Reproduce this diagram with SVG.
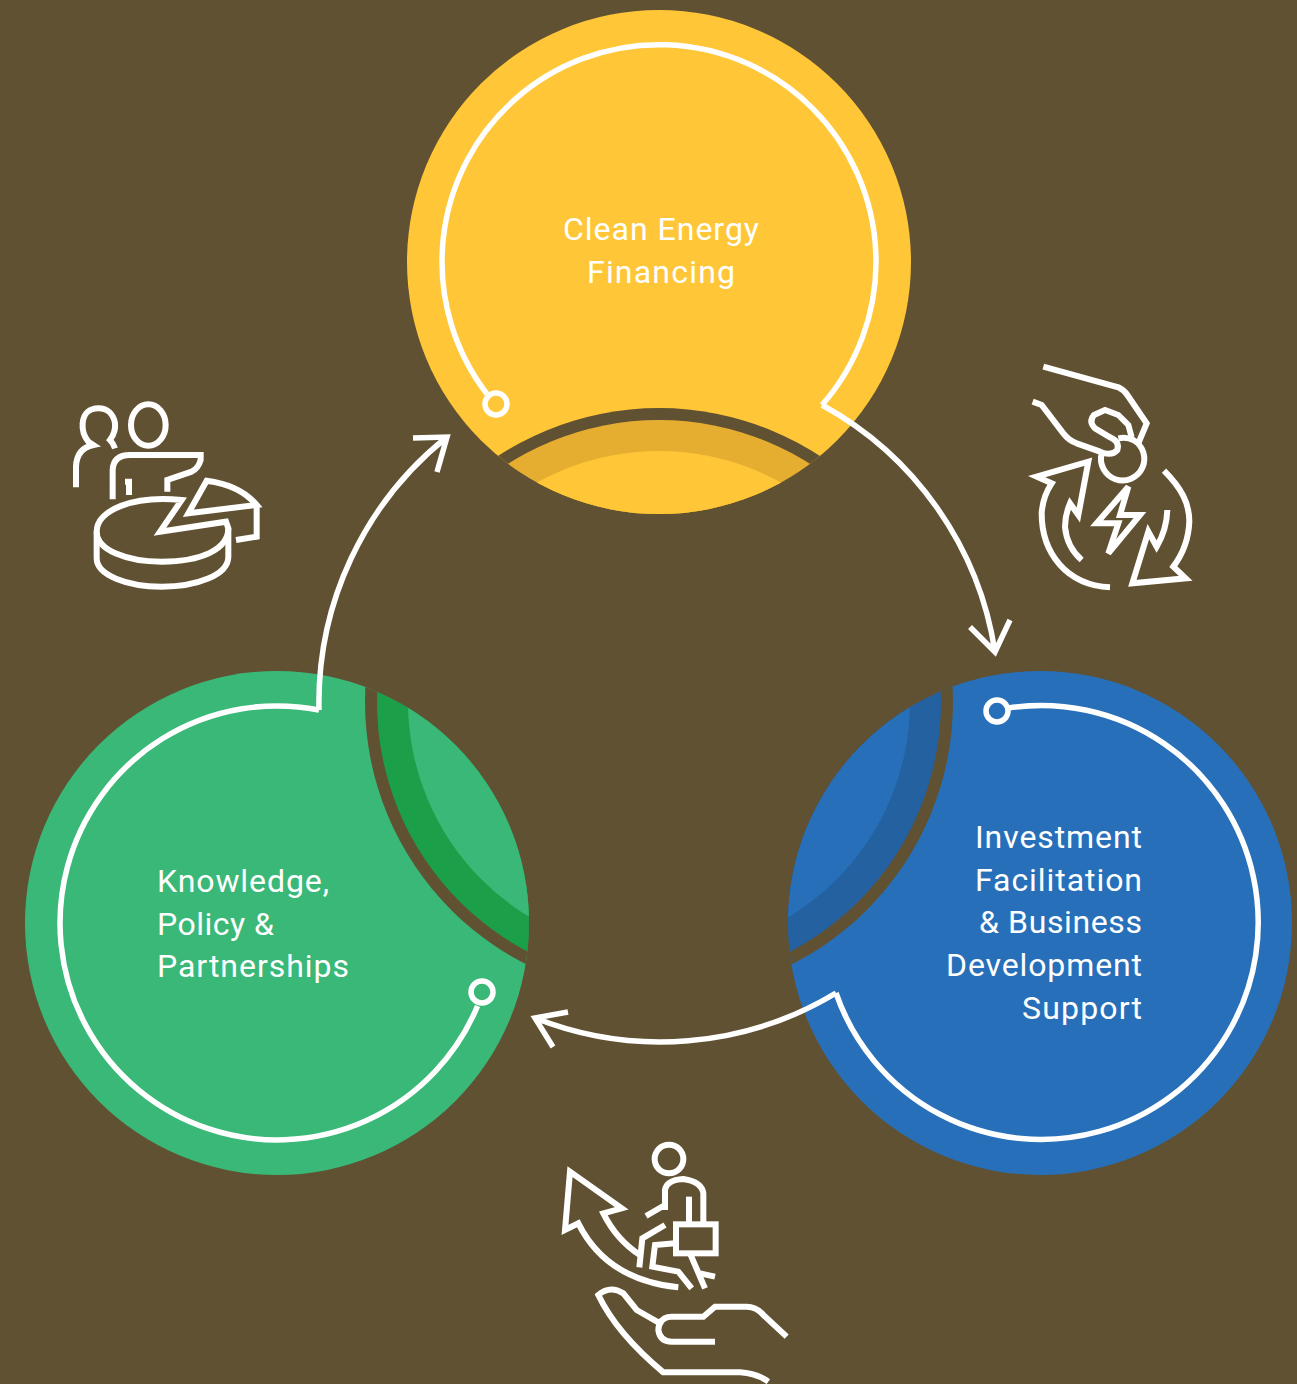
<svg xmlns="http://www.w3.org/2000/svg" width="1297" height="1384" viewBox="0 0 1297 1384">
<style>
.bg{fill:#615133}
.w{fill:none;stroke:#fff;stroke-width:5.5}
.i{fill:none;stroke:#fff;stroke-width:18;stroke-linejoin:miter}
.t{font-family:"Roboto","Liberation Sans",sans-serif;font-size:32px;font-weight:400;fill:#fff}
.y{fill:#FFC637}.yd{fill:#E6AE31}
.g{fill:#3AB877}.gd{fill:#1BA049}
.b{fill:#2770B9}.bd{fill:#2361A0}
</style>
<defs>
<clipPath id="cy"><circle cx="659" cy="262" r="252"/></clipPath>
<clipPath id="cg"><circle cx="277" cy="923" r="252"/></clipPath>
<clipPath id="cb"><circle cx="1040" cy="923" r="252"/></clipPath>
</defs>
<rect class="bg" width="1297" height="1384"/>
<g id="node-clean-energy">
<circle class="y" cx="659" cy="262" r="252"/>
<g clip-path="url(#cy)"><circle class="bg" cx="659" cy="702" r="294"/><circle class="yd" cx="659" cy="702" r="282"/><circle class="y" cx="659" cy="702" r="251"/></g>
<path class="w" d="M487 394A217 217 0 1 1 822 405"/>
<circle class="w" cx="496" cy="404" r="11"/>
<text class="t" x="661" y="240" text-anchor="middle" textLength="196">Clean Energy</text>
<text class="t" x="661" y="283" text-anchor="middle" textLength="148">Financing</text>
</g>
<g id="node-investment">
<circle class="b" cx="1040" cy="923" r="252"/>
<g clip-path="url(#cb)"><circle class="bg" cx="659" cy="702" r="294"/><circle class="bd" cx="659" cy="702" r="282"/><circle class="b" cx="659" cy="702" r="251"/></g>
<path class="w" d="M836 993A217 217 0 1 0 1008 708"/>
<circle class="w" cx="997" cy="711" r="11"/>
<g text-anchor="end">
<text class="t" x="1142" y="848" textLength="167">Investment</text>
<text class="t" x="1142" y="891" textLength="167">Facilitation</text>
<text class="t" x="1142" y="933" textLength="163">&amp; Business</text>
<text class="t" x="1142" y="976" textLength="196">Development</text>
<text class="t" x="1142" y="1019" textLength="120">Support</text>
</g>
</g>
<g id="node-knowledge">
<circle class="g" cx="277" cy="923" r="252"/>
<g clip-path="url(#cg)"><circle class="bg" cx="659" cy="702" r="294"/><circle class="gd" cx="659" cy="702" r="282"/><circle class="g" cx="659" cy="702" r="251"/></g>
<path class="w" d="M319 710A217 217 0 1 0 477.500 1006"/>
<circle class="w" cx="482" cy="992" r="11"/>
<text class="t" x="157" y="892" textLength="172">Knowledge,</text>
<text class="t" x="157" y="935" textLength="117">Policy &amp;</text>
<text class="t" x="157" y="977" textLength="192">Partnerships</text>
</g>
<g id="connectors">
<path class="w" d="M822 405A340 340 0 0 1 995 652M970 627L995 652L1010 620"/>
<path class="w" d="M836 993A340 340 0 0 1 535 1018M568 1012L535 1018L553 1047"/>
<path class="w" d="M319 710A340 340 0 0 1 447 437M413 438L447 437L437 472"/>
</g>
<g id="icon-energy" transform="translate(1020 350) scale(.33333)">
<path class="i" d="M70 50L295 112Q312 120 322 135L380 220L355 280"/>
<path class="i" d="M38 155L65 165L130 250Q145 270 170 280L240 305Q275 320 292 300Q300 275 270 262L225 235Q205 215 222 195L255 180L295 195L325 225L335 262"/>
<path class="i" d="M245 310A65 65 0 1 0 340 270Q320 260 295 265"/>
<path class="i" stroke-linejoin="round" d="M325 410L230 520H295L265 610L360 495H300Z"/>
<path class="i" d="M270 712C140 705 65 610 65 490Q68 440 95 400L50 380L205 335L175 495L150 460Q135 495 135 530Q140 590 185 630"/>
<path class="i" d="M432 362C485 415 508 460 508 515Q505 590 460 650L497 685L337 700L385 545L410 590Q440 540 442 480"/>
</g>
<g id="icon-people" transform="translate(60 390) scale(.33333)">
<path class="i" d="M165 175Q160 160 150 150Q168 125 165 100C160 70 140 55 115 55C90 55 70 70 68 100Q65 130 85 155L100 165Q50 175 48 230V292"/>
<ellipse class="i" cx="265" cy="105" rx="52" ry="62"/>
<path class="i" d="M158 328V240Q160 195 210 195H422V210Q415 235 395 245L322 270V305"/>
<path class="i" d="M195 275H207V315"/>
<path class="i" d="M365 330C220 315 110 360 110 425C110 480 200 515 305 515C420 515 505 480 505 415L498 395L300 425Z"/>
<path class="i" d="M110 425V505C110 555 200 590 305 590C410 590 505 555 505 500V415"/>
<path class="i" d="M440 272Q540 285 590 345L385 370Z"/>
<path class="i" d="M590 345V440L528 450"/>
</g>
<g id="icon-growth" transform="translate(550 1130) scale(.33333)">
<circle class="i" cx="357" cy="87" r="43"/>
<path class="i" d="M345 240V180Q350 150 400 147Q455 155 460 190V280"/>
<path class="i" d="M417 200V285"/>
<path class="i" d="M288 258L345 225"/>
<rect class="i" x="378" y="283" width="119" height="87"/>
<path class="i" d="M268 412L277 325L345 285"/>
<path class="i" d="M375 340L315 345L307 410L385 425L425 475"/>
<path class="i" d="M420 370L465 475M450 430L495 440"/>
<path class="i" d="M655 755Q620 730 570 727H340Q200 610 145 495Q180 465 220 490L260 540L330 580Q340 560 365 560H460L495 530H590Q620 530 640 555L710 620"/>
<path class="i" d="M335 570Q325 585 325 600Q330 635 365 635H495"/>
<path class="i" d="M385 472Q170 450 85 280L45 300L60 125L215 235L160 250Q200 330 270 375"/>
</g>
</svg>
